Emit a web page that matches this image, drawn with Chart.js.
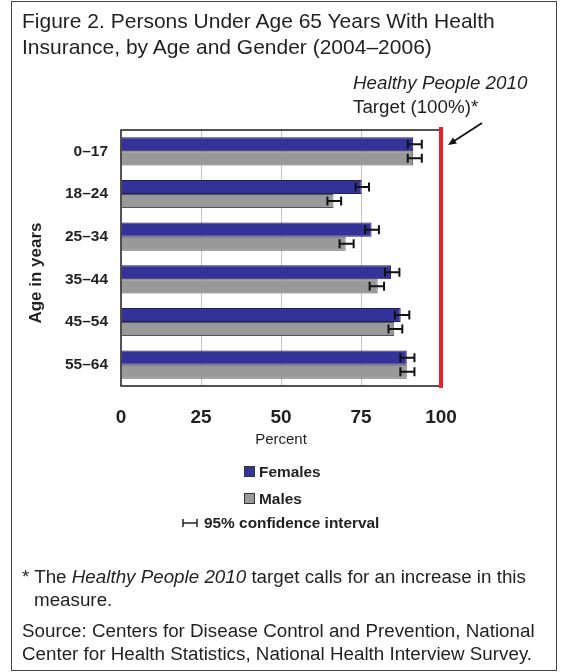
<!DOCTYPE html>
<html>
<head>
<meta charset="utf-8">
<script src="https://cdn.jsdelivr.net/npm/chart.js@4.4.1/dist/chart.umd.min.js"></script>
<style>
  html, body { margin: 0; padding: 0; background: #fff; }
  body { width: 561px; height: 672px; position: relative; overflow: hidden;
         font-family: 'Liberation Sans', Arial, sans-serif; color: #231f20; }
  #frame { position: absolute; left: 11px; top: 1px; width: 544px; height: 668px; border: 1px solid #444; }
  #chart { position: absolute; left: 0; top: 0; }
  .title { position: absolute; left: 22px; top: 8px; font-size: 21px; line-height: 25.5px; white-space: nowrap; }
  .target { position: absolute; left: 353px; top: 71px; font-size: 18.8px; line-height: 23.5px; white-space: nowrap; }
  .lg { position: absolute; font-weight: bold; font-size: 15.4px; line-height: 18px; white-space: nowrap; }
  .sw { position: absolute; width: 11px; height: 11px; box-sizing: border-box; border: 1px solid #333; }
  .foot { position: absolute; left: 22px; font-size: 18.8px; line-height: 23px; white-space: nowrap; }
</style>
</head>
<body>
<div id="frame"></div>
<canvas id="chart" width="561" height="672"></canvas>

<div class="title">Figure 2. Persons Under Age 65 Years With Health<br>Insurance, by Age and Gender (2004–2006)</div>
<div class="target"><i>Healthy People 2010</i><br>Target (100%)*</div>

<div class="sw" style="left:244px; top:466px; background:#333399;"></div>
<div class="lg" style="left:259px; top:463px;">Females</div>
<div class="sw" style="left:244px; top:493px; background:#999999;"></div>
<div class="lg" style="left:259px; top:490px;">Males</div>
<svg style="position:absolute; left:182px; top:518px;" width="16" height="10">
  <line x1="1" y1="1" x2="1" y2="9" stroke="#222" stroke-width="1.5"/>
  <line x1="1" y1="5" x2="15" y2="5" stroke="#222" stroke-width="1.5"/>
  <line x1="15" y1="1" x2="15" y2="9" stroke="#222" stroke-width="1.5"/>
</svg>
<div class="lg" style="left:204px; top:514px;">95% confidence interval</div>

<div class="foot" style="top:565px;">* The <i>Healthy People 2010</i> target calls for an increase in this<br><span style="padding-left:12px">measure.</span></div>
<div class="foot" style="top:619px;">Source: Centers for Disease Control and Prevention, National<br>Center for Health Statistics, National Health Interview Survey.</div>

<script>
// ========== DATA ==========
const ageGroups = ['0–17', '18–24', '25–34', '35–44', '45–54', '55–64'];
const females = [91.3, 75.2, 78.3, 84.4, 87.4, 89.3];
const males = [91.3, 66.4, 70.2, 80.2, 85.4, 89.3];
// 95% confidence interval bounds
const femalesLow = [89.6, 73.3, 76.3, 82.5, 85.6, 87.3];
const femalesHigh = [94.0, 77.5, 80.6, 87.0, 90.1, 91.7];
const malesLow = [89.6, 64.5, 68.3, 77.7, 83.6, 87.3];
const malesHigh = [94.0, 68.8, 72.7, 82.2, 87.9, 91.7];
const xTicks = [0, 25, 50, 75, 100];
const targetValue = 100;

const errLow = [femalesLow, malesLow];
const errHigh = [femalesHigh, malesHigh];

// frame, error bars, target line, arrow and rotated y title
const extrasPlugin = {
    id: 'extras',
    afterDatasetsDraw(chart) {
        const { ctx, chartArea: a, scales: { x } } = chart;
        ctx.save();

        // plot frame
        ctx.strokeStyle = '#1a1a1a';
        ctx.lineWidth = 1.5;
        ctx.strokeRect(a.left, a.top, a.right - a.left, a.bottom - a.top);

        // error bars
        ctx.strokeStyle = '#111';
        ctx.lineWidth = 2;
        chart.data.datasets.forEach((ds, i) => {
            const meta = chart.getDatasetMeta(i);
            meta.data.forEach((bar, j) => {
                const x0 = x.getPixelForValue(errLow[i][j]);
                const x1 = x.getPixelForValue(errHigh[i][j]);
                const y = bar.y;
                ctx.beginPath();
                ctx.moveTo(x0, y); ctx.lineTo(x1, y);
                ctx.moveTo(x0, y - 4.5); ctx.lineTo(x0, y + 4.5);
                ctx.moveTo(x1, y - 4.5); ctx.lineTo(x1, y + 4.5);
                ctx.stroke();
            });
        });

        // target line
        const xt = x.getPixelForValue(targetValue);
        ctx.strokeStyle = '#e8232b';
        ctx.lineWidth = 4;
        ctx.beginPath();
        ctx.moveTo(xt, a.top - 3);
        ctx.lineTo(xt, a.bottom + 2);
        ctx.stroke();

        // arrow pointing at the target line
        const tipX = xt + 7, tipY = a.top + 15;
        const tailX = xt + 41, tailY = a.top - 7;
        const ang = Math.atan2(tipY - tailY, tipX - tailX);
        ctx.strokeStyle = '#111';
        ctx.fillStyle = '#111';
        ctx.lineWidth = 1.8;
        ctx.beginPath();
        ctx.moveTo(tailX, tailY);
        ctx.lineTo(tipX - 5 * Math.cos(ang), tipY - 5 * Math.sin(ang));
        ctx.stroke();
        ctx.beginPath();
        ctx.moveTo(tipX, tipY);
        ctx.lineTo(tipX - 9 * Math.cos(ang - 0.4), tipY - 9 * Math.sin(ang - 0.4));
        ctx.lineTo(tipX - 9 * Math.cos(ang + 0.4), tipY - 9 * Math.sin(ang + 0.4));
        ctx.closePath();
        ctx.fill();

        // y axis title
        ctx.translate(36, (a.top + a.bottom) / 2 + 15);
        ctx.rotate(-Math.PI / 2);
        ctx.fillStyle = '#231f20';
        ctx.font = "bold 17px 'Liberation Sans', Arial, sans-serif";
        ctx.textAlign = 'center';
        ctx.textBaseline = 'middle';
        ctx.fillText('Age in years', 0, 0);

        ctx.restore();
    }
};

new Chart(document.getElementById('chart'), {
    type: 'bar',
    data: {
        labels: ageGroups,
        datasets: [
            {
                label: 'Females',
                data: females,
                backgroundColor: '#333399',
                borderColor: '#1f1f5a',
                borderWidth: 1,
                categoryPercentage: 0.66,
                barPercentage: 1.0,
            },
            {
                label: 'Males',
                data: males,
                backgroundColor: '#999999',
                borderColor: '#555555',
                borderWidth: 1,
                categoryPercentage: 0.66,
                barPercentage: 1.0,
            },
        ],
    },
    options: {
        indexAxis: 'y',
        responsive: false,
        animation: false,
        layout: { padding: { left: 0, right: 120, top: 130, bottom: 216 } },
        plugins: {
            legend: { display: false },
            tooltip: { enabled: false },
        },
        scales: {
            x: {
                min: 0,
                max: 100,
                afterFit: (scale) => { scale.height = 70; },
                afterBuildTicks: (scale) => { scale.ticks = xTicks.map(v => ({ value: v })); },
                border: { display: false },
                grid: {
                    drawTicks: false,
                    color: (c) => (c.tick && (c.tick.value === 0 || c.tick.value === 100)) ? 'rgba(0,0,0,0)' : '#c4c4c4',
                    lineWidth: 1,
                },
                ticks: {
                    color: '#231f20',
                    padding: 20,
                    font: { family: "'Liberation Sans', Arial, sans-serif", size: 19, weight: 'bold' },
                },
                title: {
                    display: true,
                    text: 'Percent',
                    color: '#231f20',
                    padding: { top: 0, bottom: 7 },
                    font: { family: "'Liberation Sans', Arial, sans-serif", size: 15 },
                },
            },
            y: {
                afterFit: (scale) => { scale.width = 121; },
                border: { display: false },
                grid: { display: false, drawTicks: false },
                ticks: {
                    color: '#231f20',
                    padding: 13,
                    font: { family: "'Liberation Sans', Arial, sans-serif", size: 15.5, weight: 'bold' },
                },
            },
        },
    },
    plugins: [extrasPlugin],
});
</script>
</body>
</html>
